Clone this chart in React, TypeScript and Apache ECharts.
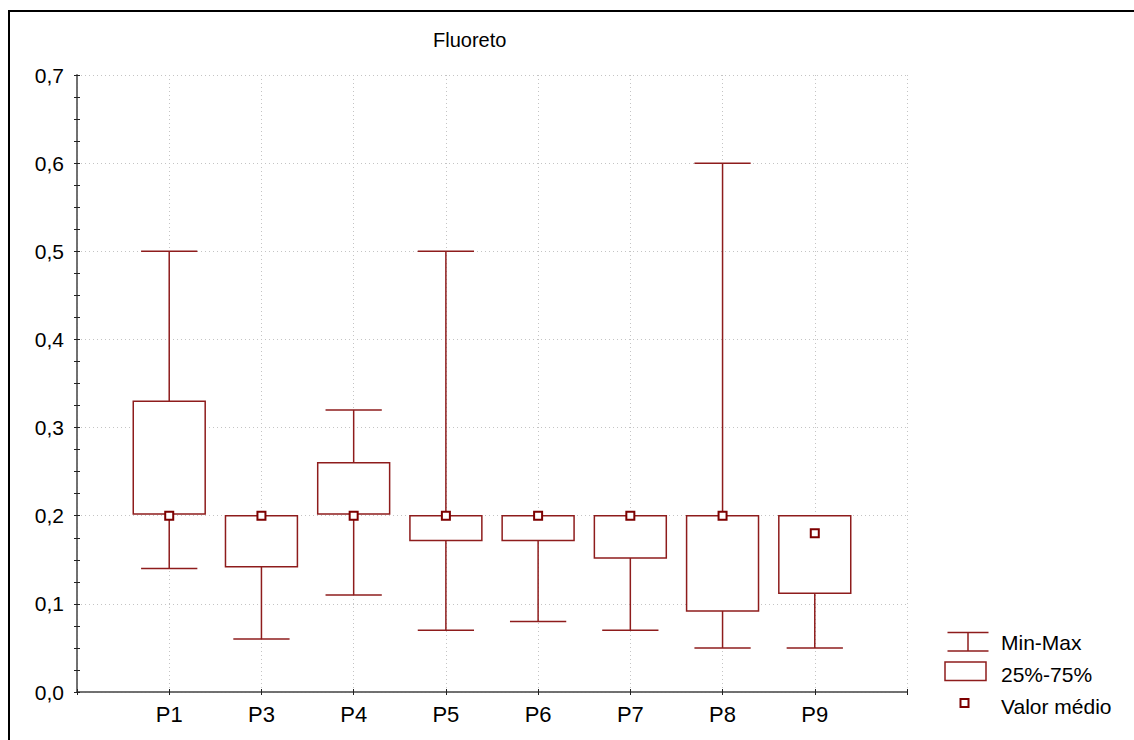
import React, { useEffect, useRef } from "react";
import * as echarts from "echarts";

// Sampling points and their fluoride statistics
const categories = ["P1", "P3", "P4", "P5", "P6", "P7", "P8", "P9"];
const minValues = [0.14, 0.06, 0.11, 0.07, 0.08, 0.07, 0.05, 0.05];
const q1Values = [0.202, 0.142, 0.202, 0.172, 0.172, 0.152, 0.092, 0.112];
const q3Values = [0.33, 0.2, 0.26, 0.2, 0.2, 0.2, 0.2, 0.2];
const maxValues = [0.5, 0.2, 0.32, 0.5, 0.2, 0.2, 0.6, 0.2];
const meanValues = [0.2, 0.2, 0.2, 0.2, 0.2, 0.2, 0.2, 0.18];
const yTicks = [0, 0.1, 0.2, 0.3, 0.4, 0.5, 0.6, 0.7];

const BOX_COLOR = "#8e1c1c";
const MEAN_COLOR = "#7d0000";
const FONT = "'Liberation Sans', Arial, sans-serif";

const fmtComma = (v: number) => v.toFixed(1).replace(".", ",");

export default function App() {
  const ref = useRef<HTMLDivElement>(null);

  useEffect(() => {
    document.body.style.margin = "0";
    const chart = echarts.init(ref.current!, null, { renderer: "svg" });

    const boxData = categories.map((_, i) => [
      i + 1,
      minValues[i],
      q1Values[i],
      q3Values[i],
      maxValues[i],
    ]);
    const meanData = categories.map((_, i) => [i + 1, meanValues[i]]);

    const gridLine = {
      show: true,
      lineStyle: { color: "#c4c4c4", type: [1, 3] as any, width: 1 },
    };

    const legendText = (text: string, y: number) => ({
      type: "text",
      x: 1001,
      y,
      style: { text, fill: "#000", font: `21px ${FONT}`, verticalAlign: "middle" },
    });

    chart.setOption({
      animation: false,
      backgroundColor: "#fff",
      textStyle: { fontFamily: FONT },
      title: {
        text: "Fluoreto",
        left: 433,
        top: 30,
        padding: 0,
        textStyle: { fontSize: 20, fontWeight: "normal", color: "#000", fontFamily: FONT },
      },
      grid: { left: 77, top: 75, right: 227, bottom: 48, containLabel: false },
      xAxis: [
        {
          type: "value",
          min: 0,
          max: categories.length + 1,
          interval: 1,
          position: "bottom",
          axisLine: { show: true, lineStyle: { color: "#222", width: 1.5 } },
          axisTick: { show: true, inside: true, length: 3, lineStyle: { color: "#222" } },
          axisLabel: {
            margin: 11,
            fontSize: 22,
            color: "#000",
            fontFamily: FONT,
            formatter: (v: number) =>
              v >= 1 && v <= categories.length ? categories[v - 1] : "",
          },
          splitLine: gridLine,
        },
        {
          type: "value",
          min: 0,
          max: categories.length + 1,
          interval: 1,
          position: "top",
          axisLine: { show: true, lineStyle: { color: "#7a7a7a", width: 1.5 } },
          axisTick: { show: true, inside: true, length: 3, lineStyle: { color: "#222" } },
          axisLabel: { show: false },
          splitLine: { show: false },
        },
      ],
      yAxis: [
        {
          type: "value",
          min: yTicks[0],
          max: yTicks[yTicks.length - 1],
          interval: 0.1,
          position: "left",
          axisLine: { show: true, lineStyle: { color: "#222", width: 1.5 } },
          axisTick: { show: true, inside: true, length: 3, lineStyle: { color: "#222" } },
          minorTick: { show: true, splitNumber: 4, length: 3, lineStyle: { color: "#222" } },
          axisLabel: {
            margin: 13,
            fontSize: 21,
            color: "#000",
            fontFamily: FONT,
            formatter: (v: number) => fmtComma(v),
          },
          splitLine: gridLine,
        },
        {
          type: "value",
          min: yTicks[0],
          max: yTicks[yTicks.length - 1],
          interval: 0.1,
          position: "right",
          axisLine: { show: true, lineStyle: { color: "#7a7a7a", width: 1.5 } },
          axisTick: { show: true, inside: true, length: 3, lineStyle: { color: "#222" } },
          minorTick: { show: true, splitNumber: 4, length: 3, lineStyle: { color: "#222" } },
          axisLabel: { show: false },
          splitLine: { show: false },
        },
      ],
      series: [
        {
          name: "Min-Max / 25%-75%",
          type: "custom",
          xAxisIndex: 0,
          yAxisIndex: 0,
          z: 3,
          encode: { x: 0, y: [1, 2, 3, 4] },
          data: boxData,
          renderItem: (_params: any, api: any) => {
            const x = api.value(0);
            const lo = api.coord([x, api.value(1)]);
            const q1 = api.coord([x, api.value(2)]);
            const q3 = api.coord([x, api.value(3)]);
            const hi = api.coord([x, api.value(4)]);
            const unit = api.size([1, 0])[0];
            const boxW = unit * 0.78;
            const capW = unit * 0.61;
            const stroke = { stroke: BOX_COLOR, lineWidth: 1.5, fill: null };
            return {
              type: "group",
              children: [
                { type: "line", shape: { x1: lo[0], y1: lo[1], x2: q1[0], y2: q1[1] }, style: stroke },
                { type: "line", shape: { x1: q3[0], y1: q3[1], x2: hi[0], y2: hi[1] }, style: stroke },
                {
                  type: "line",
                  shape: { x1: lo[0] - capW / 2, y1: lo[1], x2: lo[0] + capW / 2, y2: lo[1] },
                  style: stroke,
                },
                {
                  type: "line",
                  shape: { x1: hi[0] - capW / 2, y1: hi[1], x2: hi[0] + capW / 2, y2: hi[1] },
                  style: stroke,
                },
                {
                  type: "rect",
                  shape: { x: q3[0] - boxW / 2, y: q3[1], width: boxW, height: q1[1] - q3[1] },
                  style: { stroke: BOX_COLOR, lineWidth: 1.5, fill: "#fff" },
                },
              ],
            };
          },
        },
        {
          name: "Valor médio",
          type: "scatter",
          xAxisIndex: 0,
          yAxisIndex: 0,
          z: 5,
          symbol: "rect",
          symbolSize: 8,
          itemStyle: { color: "#fff", borderColor: MEAN_COLOR, borderWidth: 2, opacity: 1 },
          data: meanData,
        },
      ],
      graphic: [
        // outer frame
        {
          type: "rect",
          silent: true,
          shape: { x: 9, y: 11, width: 2000, height: 2000 },
          style: { fill: null, stroke: "#000", lineWidth: 2 },
        },
        // legend: Min-Max
        {
          type: "group",
          left: 945,
          top: 630,
          children: [
            { type: "line", shape: { x1: 0, y1: 0.5, x2: 41, y2: 0.5 }, style: { stroke: BOX_COLOR, lineWidth: 1.5 } },
            { type: "line", shape: { x1: 20.5, y1: 0.5, x2: 20.5, y2: 19 }, style: { stroke: BOX_COLOR, lineWidth: 1.5 } },
            { type: "line", shape: { x1: 0, y1: 19, x2: 41, y2: 19 }, style: { stroke: BOX_COLOR, lineWidth: 1.5 } },
          ],
        },
        legendText("Min-Max", 642),
        // legend: 25%-75%
        {
          type: "rect",
          shape: { x: 945, y: 662, width: 41, height: 18.5 },
          style: { stroke: BOX_COLOR, lineWidth: 1.5, fill: "#fff" },
        },
        legendText("25%-75%", 674),
        // legend: mean marker
        {
          type: "rect",
          shape: { x: 960.5, y: 699, width: 8, height: 8 },
          style: { stroke: MEAN_COLOR, lineWidth: 2, fill: "#fff" },
        },
        legendText("Valor médio", 706),
      ],
    });

    return () => chart.dispose();
  }, []);

  return <div ref={ref} style={{ width: 1134, height: 740 }} />;
}
